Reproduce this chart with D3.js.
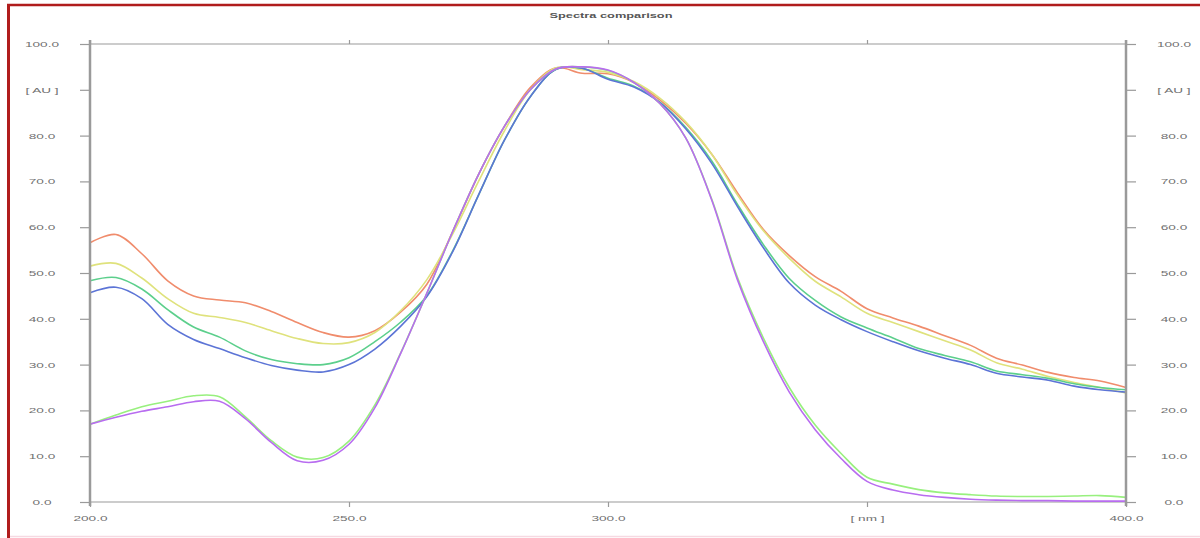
<!DOCTYPE html>
<html>
<head>
<meta charset="utf-8">
<script src="https://cdn.jsdelivr.net/npm/d3@7"></script>
<style>
	html, body { margin: 0; padding: 0; background: #fff; }
	svg { display: block; }
	text { font-family: "Liberation Sans", Arial, sans-serif; }
</style>
</head>
<body>
<svg id="chart" width="1200" height="538"></svg>
<script>
/**
 * Data
 */
let wavelengths = [200, 205, 210, 215, 220, 225, 230, 235, 240, 245, 250, 255, 260, 265, 270, 275, 280, 285, 290, 295,
	300, 305, 310, 315, 320, 325, 330, 335, 340, 345, 350, 355, 360, 365, 370, 375, 380, 385, 390, 395, 400];

let orangeSpectrum = [56.6, 58.4, 54.2, 48.3, 45.0, 44.1, 43.5, 41.6, 39.2, 37.0, 36.0, 37.4, 41.5, 47.5, 59.0, 71.5, 82.0, 90.5, 94.8, 93.6,
	93.5, 91.6, 87.8, 82.7, 76.0, 67.5, 59.5, 53.8, 49.2, 46.0, 42.2, 40.2, 38.4, 36.3, 34.2, 31.4, 29.9, 28.3, 27.2, 26.4, 25.0];
let yellowSpectrum = [51.5, 52.1, 48.9, 44.4, 41.2, 40.3, 39.2, 37.4, 35.7, 34.6, 34.8, 37.0, 41.8, 48.5, 58.5, 70.0, 81.0, 90.0, 94.8, 94.4,
	93.8, 91.8, 88.2, 83.0, 76.0, 67.0, 59.2, 53.2, 48.2, 44.8, 41.2, 39.2, 37.2, 35.2, 33.2, 30.4, 29.0, 27.4, 26.1, 25.0, 23.8];
let greenSpectrum = [48.3, 49.0, 46.5, 42.0, 38.2, 36.0, 33.0, 31.1, 30.2, 30.0, 31.5, 35.0, 39.3, 45.0, 54.8, 67.0, 79.0, 88.5, 94.5, 94.7,
	92.5, 90.8, 87.3, 81.8, 74.5, 65.0, 56.2, 48.8, 44.0, 40.4, 38.0, 35.8, 33.5, 32.0, 30.6, 28.6, 27.8, 27.0, 25.8, 25.0, 24.5];
let blueSpectrum = [45.7, 46.9, 44.4, 38.8, 35.5, 33.5, 31.5, 29.8, 28.8, 28.4, 30.0, 33.4, 38.4, 44.8, 54.6, 67.0, 79.0, 88.5, 94.5, 94.7,
	92.3, 90.6, 87.2, 81.5, 74.0, 64.5, 55.5, 47.8, 43.0, 39.8, 37.2, 35.0, 33.0, 31.4, 30.0, 28.1, 27.3, 26.6, 25.3, 24.5, 24.0];
let lightGreenSpectrum = [17.0, 19.0, 20.8, 22.0, 23.2, 23.0, 18.6, 13.4, 9.8, 9.7, 13.3, 21.2, 32.6, 45.5, 59.0, 71.5, 82.0, 90.0, 94.6, 95.0,
	94.2, 91.6, 87.0, 79.5, 66.2, 49.0, 35.8, 25.0, 16.8, 10.6, 5.4, 3.9, 2.7, 2.0, 1.6, 1.3, 1.2, 1.2, 1.3, 1.4, 1.0];
let purpleSpectrum = [17.0, 18.5, 19.8, 20.8, 21.9, 22.0, 18.2, 13.0, 9.0, 9.1, 12.6, 20.6, 32.5, 45.5, 59.0, 71.5, 82.0, 90.0, 94.6, 95.0,
	94.3, 91.6, 87.0, 79.5, 66.0, 48.5, 35.0, 24.0, 15.8, 9.5, 4.5, 2.6, 1.6, 1.0, 0.6, 0.4, 0.3, 0.3, 0.2, 0.2, 0.2];

let seriesNames = ["orange", "yellow", "green", "blue", "lightGreen", "purple"];
let seriesValues = [orangeSpectrum, yellowSpectrum, greenSpectrum, blueSpectrum, lightGreenSpectrum, purpleSpectrum];
let seriesColors = ["#f08c6c", "#dfe27c", "#5ccf8c", "#5c74d6", "#98f07e", "#b86cf0"];

let xTickValues = [200, 250, 300, 350, 400];
let xTickLabels = ["200.0", "250.0", "300.0", "[ nm ]", "400.0"];
let yTickValues = [0, 10, 20, 30, 40, 50, 60, 70, 80, 90, 100];
let yTickLabels = ["0.0", "10.0", "20.0", "30.0", "40.0", "50.0", "60.0", "70.0", "80.0", "[ AU ]", "100.0"];
let chartTitle = "Spectra comparison";

/**
 * Layout
 */
let margin = { top: 44, right: 74, bottom: 36, left: 90 };
let width = 1200;
let height = 538;
let axisColor = "#9a9a9a";
let labelColor = "#707070";
let stretch = 1.7;

let svg = d3.select("#chart");

// Frame (cropped red border)
svg.append("rect").attr("width", width).attr("height", height).attr("fill", "#fff");
svg.append("line").attr("x1", 8.5).attr("x2", 8.5).attr("y1", 4).attr("y2", height)
	.attr("stroke", "#b01c1c").attr("stroke-width", 3);
svg.append("line").attr("x1", 7).attr("x2", width).attr("y1", 5).attr("y2", 5)
	.attr("stroke", "#b01c1c").attr("stroke-width", 2.5);
svg.append("line").attr("x1", 10).attr("x2", width).attr("y1", 536.5).attr("y2", 536.5)
	.attr("stroke", "#f6d9e2").attr("stroke-width", 1.5);

/**
 * Scales
 */
let xScale = d3.scaleLinear().domain([200, 400]).range([margin.left, width - margin.right]);
let yScale = d3.scaleLinear().domain([0, 100]).range([height - margin.bottom, margin.top]);

// stretched text, the reference is widened horizontally
function stretchText(sel, factor) {
	sel.each(function() {
		let len = this.getComputedTextLength();
		d3.select(this).attr("textLength", len * factor).attr("lengthAdjust", "spacingAndGlyphs");
	});
}

/**
 * Axes
 */
let labelAt = function(arr) { return function(d, i) { return arr[i]; }; };

let leftAxis = svg.append("g").attr("transform", "translate(" + margin.left + ",0)")
	.call(d3.axisLeft(yScale).tickValues(yTickValues).tickFormat(labelAt(yTickLabels)).tickSize(10).tickPadding(24));
let rightAxis = svg.append("g").attr("transform", "translate(" + (width - margin.right) + ",0)")
	.call(d3.axisRight(yScale).tickValues(yTickValues).tickFormat(labelAt(yTickLabels)).tickSize(10).tickPadding(20));
let bottomAxis = svg.append("g").attr("transform", "translate(0," + (height - margin.bottom) + ")")
	.call(d3.axisBottom(xScale).tickValues(xTickValues).tickFormat(labelAt(xTickLabels)).tickSize(5).tickPadding(8));
let topAxis = svg.append("g").attr("transform", "translate(0," + margin.top + ")")
	.call(d3.axisTop(xScale).tickValues(xTickValues).tickFormat("").tickSize(4));

[leftAxis, rightAxis, bottomAxis, topAxis].forEach(function(g) {
	g.select(".domain").remove();
	g.selectAll(".tick line").attr("stroke", axisColor).attr("stroke-width", 1.2);
	g.selectAll(".tick text").attr("fill", labelColor).attr("font-size", 8);
});

leftAxis.selectAll(".tick text").attr("text-anchor", "middle").attr("x", -48);
rightAxis.selectAll(".tick text").attr("text-anchor", "middle").attr("x", 48);
[leftAxis, rightAxis, bottomAxis].forEach(function(g) { stretchText(g.selectAll(".tick text"), stretch); });

// Frame lines of the plot
let plot = { x0: xScale(200), x1: xScale(400), y0: yScale(100), y1: yScale(0) };
svg.append("line").attr("x1", plot.x0).attr("x2", plot.x1).attr("y1", plot.y0).attr("y2", plot.y0)
	.attr("stroke", axisColor).attr("stroke-width", 1.2);
svg.append("line").attr("x1", plot.x0).attr("x2", plot.x1).attr("y1", plot.y1).attr("y2", plot.y1)
	.attr("stroke", axisColor).attr("stroke-width", 1.2);

/**
 * Spectra
 */
let line = d3.line()
	.x(function(d) { return xScale(d.x); })
	.y(function(d) { return yScale(d.y); })
	.curve(d3.curveCatmullRom.alpha(0.5));

let series = seriesNames.map(function(name, i) {
	return { key: name, color: seriesColors[i], values: wavelengths.map(function(w, j) { return { x: w, y: seriesValues[i][j] }; }) };
});

svg.append("g").attr("class", "spectra")
	.selectAll("path.spectrum")
	.data(series)
	.enter()
	.append("path")
	.attr("class", "spectrum")
	.attr("id", function(d) { return d.key; })
	.attr("fill", "none")
	.attr("stroke", function(d) { return d.color; })
	.attr("stroke-width", 1.6)
	.attr("stroke-linejoin", "round")
	.attr("d", function(d) { return line(d.values); });

// Vertical axis lines drawn over the spectra ends
svg.append("line").attr("x1", plot.x0).attr("x2", plot.x0).attr("y1", plot.y0 - 4).attr("y2", plot.y1 + 4)
	.attr("stroke", axisColor).attr("stroke-width", 2.5);
svg.append("line").attr("x1", plot.x1).attr("x2", plot.x1).attr("y1", plot.y0 - 4).attr("y2", plot.y1 + 4)
	.attr("stroke", axisColor).attr("stroke-width", 2.5);

/**
 * Title
 */
let title = svg.append("text")
	.attr("x", xScale(300) + 3)
	.attr("y", 17.5)
	.attr("text-anchor", "middle")
	.attr("font-size", 8)
	.attr("font-weight", "bold")
	.attr("fill", "#555")
	.text(chartTitle);
stretchText(title, 1.6);
</script>
</body>
</html>
